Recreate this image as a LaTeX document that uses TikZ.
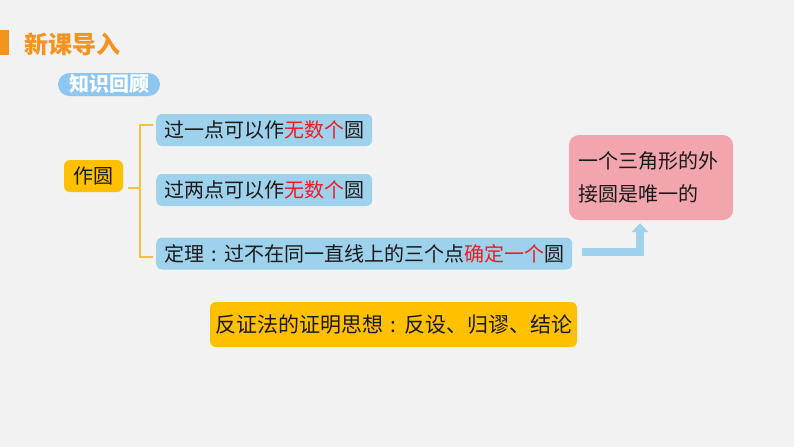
\documentclass[tikz,border=0pt]{standalone}
\usepackage{fontspec}
\setmainfont{Noto Sans CJK SC}
\usetikzlibrary{arrows.meta,positioning}
\definecolor{bg}{HTML}{F2F2F2}
\definecolor{org}{HTML}{F6921E}
\definecolor{pillb}{HTML}{8DC6F0}
\definecolor{skyb}{HTML}{9DD1EC}
\definecolor{gold}{HTML}{FFC000}
\definecolor{brkc}{HTML}{F5C142}
\definecolor{pink}{HTML}{F3A5AE}
\definecolor{hot}{HTML}{EE1C25}
\definecolor{ink}{HTML}{1A1A1A}
\newcommand{\ccolon}{\makebox[1em][c]{:}}

\begin{document}
\begin{tikzpicture}[
            x=1pt, y=-1pt,
            box/.style={fill=skyb,rounded corners=6pt,minimum height=32pt,inner xsep=8pt,inner ysep=0pt,text=ink,font=\fontsize{20}{24}\selectfont},
            tag/.style={fill=gold,rounded corners=6pt,inner ysep=0pt,text=ink,font=\fontsize{20}{24}\selectfont},
            pill/.style={fill=pillb,rounded corners=11.5pt,minimum height=23pt,minimum width=102pt,inner sep=0pt,text=white,font=\bfseries\fontsize{20}{22}\selectfont},
            brk/.style={draw=brkc,line width=1.2pt},
            arr/.style={draw=skyb,line width=8pt,-{Triangle[width=16pt,length=9pt]}}
        ]

        \tikzset{
            node distance=28pt,
        }

        % background
        \fill[bg] (0,0) rectangle (794,447);
        \fill[org] (0,30) rectangle (9,55);

        \node[anchor=west,inner sep=0pt,text=org,font=\bfseries\fontsize{24}{26}\selectfont] (title) at (24,44) {新课导入};
        \node[pill] (recall) at (109,84.5) {知识回顾};

        \node[tag,minimum width=59pt,minimum height=32pt] (zy) at (93.5,176) {作圆};

        \node[box,anchor=west] (b1) at (156,130) {过一点可以作\textcolor{hot}{无数个}圆};
        \node[box,anchor=west] (b2) at (156,190) {过两点可以作\textcolor{hot}{无数个}圆};
        \node[box,anchor=west] (b3) at (156,253.5) {定理\ccolon 过不在同一直线上的三个点\textcolor{hot}{确定一个}圆};

        \node[fill=pink,rounded corners=10pt,minimum height=85pt,text width=146pt,inner xsep=9pt,align=left,text=ink,
              font=\fontsize{20}{33}\selectfont] (pk) at (651,177.5) {一个三角形的外\\接圆是唯一的};

        \node[tag,minimum width=367pt,minimum height=45pt,font=\fontsize{21}{24}\selectfont] (fz) at (393.5,324.5)
            {反证法的证明思想\ccolon 反设、归谬、结论};

        % bracket
        \draw[brk] (b1.west) ++(-3,-5) -- ++(-13,0) -- ++(0,132) -- ++(13,0);
        \draw[brk] ([xshift=5pt,yshift=-12pt]zy.east) -- ++(12,0);

        \draw[arr] ([xshift=10pt,yshift=1.5pt]b3.east) -| ([xshift=-11pt,yshift=-3pt]pk.south);

\end{tikzpicture}
\end{document}
